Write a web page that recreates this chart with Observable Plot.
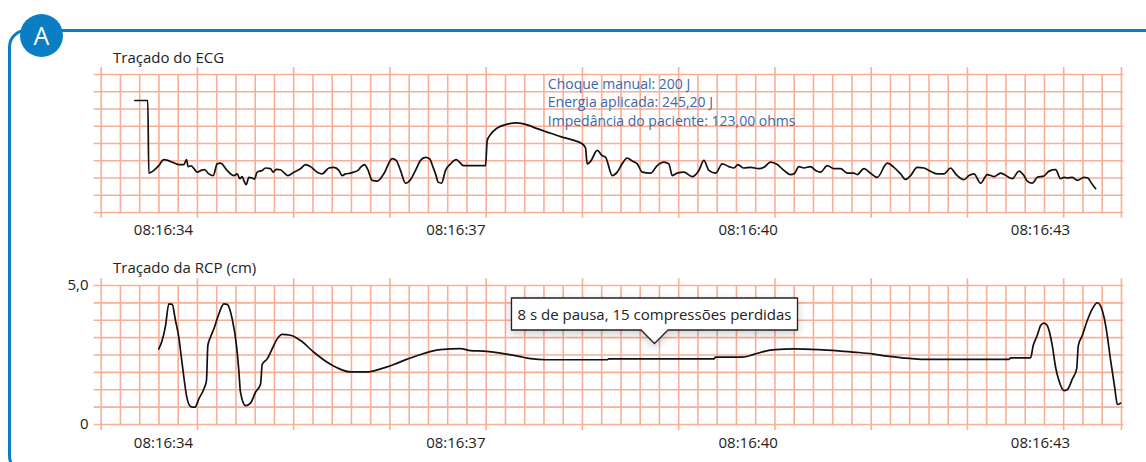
<!DOCTYPE html>
<html><head><meta charset="utf-8">
<script src="https://cdn.jsdelivr.net/npm/d3@7"></script>
<script src="https://cdn.jsdelivr.net/npm/@observablehq/plot@0.6"></script>
<style>
body{margin:0;background:#fff;font-family:"Open Sans",sans-serif;}
#wrap{position:relative;width:1146px;height:462px;overflow:hidden;background:#fff;}
#frame{position:absolute;left:7.5px;top:28.5px;width:1160px;height:445px;border:3px solid #0b7ec3;border-radius:18px;box-sizing:border-box;}
#badge{position:absolute;left:20px;top:14px;width:43px;height:43px;border-radius:50%;background:#0b7ec3;color:#fff;font-size:25px;line-height:43px;text-align:center;}
.title{position:absolute;left:113px;font-size:15px;line-height:15px;color:#222;white-space:nowrap;}
.plot-layer{position:absolute;left:0;top:0;}
.plot-layer g[aria-label="tip"]{filter:none !important;}
</style></head>
<body><div id="wrap">
<div id="frame"></div>
<div id="badge">A</div>
<div id="ecgLayer" class="plot-layer"></div>
<div id="cprLayer" class="plot-layer"></div>
<div class="title" style="top:49.7px">Traçado do ECG</div>
<div class="title" style="top:260px">Traçado da RCP (cm)</div>
</div>
<script>
// ---- Data ----
const tickSeconds = [0, 3, 6, 9];
const tickLabels = ["08:16:34", "08:16:37", "08:16:40", "08:16:43"];
const cprTickValues = [0, 5];
const cprTickLabels = ["0", "5,0"];

// ECG trace: time (s after 08:16:34) and amplitude (mV)
const ecgTime = [-0.294,-0.161,-0.151,-0.099,-0.048,0.003,0.044,0.089,0.157,0.209,0.236,0.253,0.284,0.311,0.346,0.387,0.421,0.465,0.510,0.551,0.585,0.653,0.722,0.756,0.783,0.807,0.824,0.848,0.876,0.910,0.934,0.961,1.013,1.047,1.098,1.126,1.156,1.201,1.242,1.276,1.338,1.406,1.457,1.509,1.577,1.628,1.697,1.748,1.800,1.834,1.868,1.919,1.953,1.995,2.029,2.063,2.097,2.142,2.193,2.261,2.347,2.388,2.432,2.484,2.535,2.586,2.638,2.689,2.730,2.764,2.792,2.819,2.853,2.894,2.946,3.004,3.038,3.076,3.305,3.322,3.356,3.425,3.527,3.630,3.733,3.835,3.938,4.075,4.211,4.297,4.331,4.348,4.383,4.451,4.502,4.537,4.605,4.656,4.707,4.759,4.810,4.862,4.913,4.998,5.067,5.135,5.186,5.221,5.272,5.340,5.426,5.494,5.546,5.597,5.666,5.734,5.802,5.854,5.895,5.956,6.025,6.111,6.162,6.230,6.299,6.367,6.435,6.470,6.521,6.572,6.640,6.692,6.743,6.812,6.880,6.948,7.017,7.085,7.119,7.188,7.256,7.325,7.427,7.496,7.564,7.615,7.667,7.735,7.804,7.855,7.941,8.009,8.077,8.129,8.214,8.266,8.317,8.386,8.454,8.522,8.591,8.711,8.779,8.830,8.864,8.916,8.967,9.036,9.087,9.155,9.207,9.241,9.275,9.327,9.378,9.446,9.487,9.515,9.566];
const ecgMv = [1.246,1.246,-0.86,-0.78,-0.64,-0.47,-0.49,-0.54,-0.61,-0.61,-0.47,-0.67,-0.65,-0.72,-0.83,-0.78,-0.76,-0.88,-0.93,-0.59,-0.57,-0.78,-0.93,-0.88,-1.02,-0.96,-1.07,-1.19,-0.98,-1.00,-1.03,-0.83,-0.78,-0.71,-0.73,-0.83,-0.75,-0.76,-0.86,-0.93,-0.83,-0.73,-0.61,-0.67,-0.83,-0.88,-0.71,-0.69,-0.78,-0.93,-0.88,-0.86,-0.83,-0.78,-0.67,-0.61,-0.76,-1.07,-1.09,-0.88,-0.44,-0.49,-0.78,-1.15,-1.05,-0.78,-0.49,-0.40,-0.44,-0.67,-0.88,-1.12,-1.15,-0.78,-0.59,-0.47,-0.54,-0.64,-0.64,0.09,0.26,0.45,0.56,0.60,0.54,0.43,0.33,0.20,0.09,-0.01,-0.13,-0.59,-0.52,-0.20,-0.35,-0.40,-0.93,-0.83,-0.59,-0.42,-0.51,-0.59,-0.83,-0.86,-0.64,-0.54,-0.59,-0.93,-0.86,-0.83,-0.96,-0.78,-0.49,-0.78,-0.86,-0.59,-0.67,-0.71,-0.61,-0.71,-0.69,-0.73,-0.69,-0.54,-0.61,-0.78,-0.90,-0.88,-0.67,-0.71,-0.67,-0.78,-0.83,-0.64,-0.73,-0.73,-0.86,-0.86,-0.90,-0.73,-0.86,-0.98,-0.57,-0.69,-0.88,-1.04,-0.93,-0.69,-0.71,-0.78,-0.88,-0.88,-0.71,-0.88,-1.05,-0.93,-0.88,-1.15,-0.90,-0.96,-0.86,-1.02,-0.80,-0.93,-1.09,-1.15,-0.98,-0.94,-0.80,-0.76,-1.02,-0.98,-1.00,-0.98,-1.07,-0.98,-1.00,-1.12,-1.31];

// CPR depth trace: time (s) and depth (cm)
const cprTime = [-0.048,-0.014,0.021,0.055,0.089,0.123,0.157,0.181,0.209,0.236,0.277,0.322,0.363,0.414,0.441,0.455,0.482,0.523,0.568,0.619,0.653,0.705,0.749,0.773,0.790,0.842,0.893,0.944,0.996,1.013,1.064,1.115,1.167,1.218,1.303,1.406,1.543,1.680,1.782,1.919,2.090,2.227,2.364,2.501,2.638,2.843,3.048,3.151,3.288,3.459,3.647,3.767,3.921,4.553,4.570,5.648,5.665,5.939,6.058,6.178,6.281,6.469,6.725,6.947,7.136,7.274,7.427,7.581,7.821,8.676,8.693,8.898,8.925,8.966,9.001,9.035,9.069,9.121,9.155,9.189,9.241,9.275,9.327,9.371,9.388,9.429,9.480,9.532,9.583,9.634,9.669,9.720,9.761,9.789,9.823];
const cprCm = [2.72,3.02,3.56,4.34,4.32,3.74,3.14,2.48,1.70,1.04,0.65,0.62,0.92,1.28,1.58,2.84,3.14,3.50,3.98,4.34,4.32,3.80,2.84,1.94,1.16,0.68,0.77,1.16,1.46,2.16,2.36,2.72,3.08,3.24,3.21,3.02,2.60,2.24,2.04,1.89,1.89,2.00,2.16,2.35,2.52,2.69,2.73,2.66,2.64,2.57,2.45,2.37,2.33,2.33,2.36,2.36,2.42,2.42,2.52,2.64,2.69,2.72,2.69,2.64,2.59,2.54,2.46,2.40,2.34,2.34,2.40,2.40,2.84,3.20,3.56,3.65,3.56,2.84,2.06,1.58,1.22,1.25,1.64,2.00,2.84,3.20,3.74,4.16,4.38,4.10,3.56,2.30,1.34,0.72,0.77];

// Annotations
const shockInfo = ["Choque manual: 200 J", "Energia aplicada: 245,20 J", "Impedância do paciente: 123,00 ohms"];
const shockAt = [{t: 3.944, mv: 1.94}];
const pauseNote = ["8 s de pausa, 15 compressões perdidas"];
const pauseAt = [{t: 5.04, cm: 2.91}];

// ---- ECG paper grid (0.2 s boxes) ----
const gridStart = -0.6394, gridStep = 0.19755, gridCount = 54;
const vLines = d3.range(gridCount).map(k => ({t: gridStart + k * gridStep, major: k % 5 === 0 || k === gridCount - 1}));
const hX1 = -0.711, hX2 = 9.857;
const gridColor = "#f9ae95", gridW = 1.6;

const ecg = ecgTime.map((t, i) => ({t, v: ecgMv[i]}));
const cpr = cprTime.map((t, i) => ({t, cm: cprCm[i]}));

const xScale = {domain: [0, 9], range: [163, 1040]};
const baseStyle = {background: "transparent", fontFamily: "'Open Sans', sans-serif", fontSize: "15px", color: "#222", overflow: "visible"};
const fmtX = d => tickLabels[tickSeconds.indexOf(d)];

function grid(yMin, yMax, yStep, extLo, extHi) {
  return [
    Plot.ruleY(d3.range(0, Math.round((yMax - yMin) / yStep) + 1).map(i => yMin + i * yStep), {x1: hX1, x2: hX2, stroke: gridColor, strokeWidth: gridW}),
    Plot.ruleX(vLines.filter(d => !d.major), {x: "t", y1: yMin, y2: yMax, stroke: gridColor, strokeWidth: gridW}),
    Plot.ruleX(vLines.filter(d => d.major), {x: "t", y1: yMin - extLo, y2: yMax + extHi, stroke: gridColor, strokeWidth: gridW})
  ];
}

const ecgPlot = Plot.plot({
  width: 1146, height: 462, marginLeft: 93, marginRight: 0, marginTop: 0, marginBottom: 250,
  style: baseStyle,
  x: xScale,
  y: {domain: [-2, 2], range: [212, 74], axis: null},
  marks: [
    ...grid(-2, 2, 0.5, 0.17, 0.2),
    Plot.line(ecg, {x: "t", y: "v", stroke: "#111", strokeWidth: 1.7, curve: "monotone-x"}),
    Plot.text(shockAt, {x: "t", y: "mv", text: () => shockInfo.join("\n"), textAnchor: "start", lineAnchor: "top", fill: "#3d66a8", fontSize: 14, lineHeight: 1.29}),
    Plot.axisX(tickSeconds, {tickSize: 0, tickPadding: 12, tickFormat: fmtX, fontSize: 15, label: null})
  ]
});
document.getElementById("ecgLayer").append(ecgPlot);

const cprPlot = Plot.plot({
  width: 1146, height: 462, marginLeft: 93, marginRight: 0, marginTop: 0, marginBottom: 38,
  style: baseStyle,
  x: xScale,
  y: {domain: [0, 5], range: [424, 285]},
  marks: [
    ...grid(0, 5, 0.625, 0.22, 0.24),
    Plot.line(cpr, {x: "t", y: "cm", stroke: "#111", strokeWidth: 1.7, curve: "monotone-x"}),
    Plot.tip(pauseAt, {x: "t", y: "cm", title: () => pauseNote[0], anchor: "bottom", fontSize: 15, fill: "white", stroke: "#222", strokeWidth: 1.3, pointerSize: 27, textPadding: 6, lineHeight: 1}),
    Plot.axisX(tickSeconds, {tickSize: 0, tickPadding: 13, tickFormat: fmtX, fontSize: 15, label: null}),
    Plot.axisY(cprTickValues, {tickSize: 0, tickPadding: 5, tickFormat: d => cprTickLabels[cprTickValues.indexOf(d)], fontSize: 15, label: null})
  ]
});
document.getElementById("cprLayer").append(cprPlot);
</script>
</body></html>
